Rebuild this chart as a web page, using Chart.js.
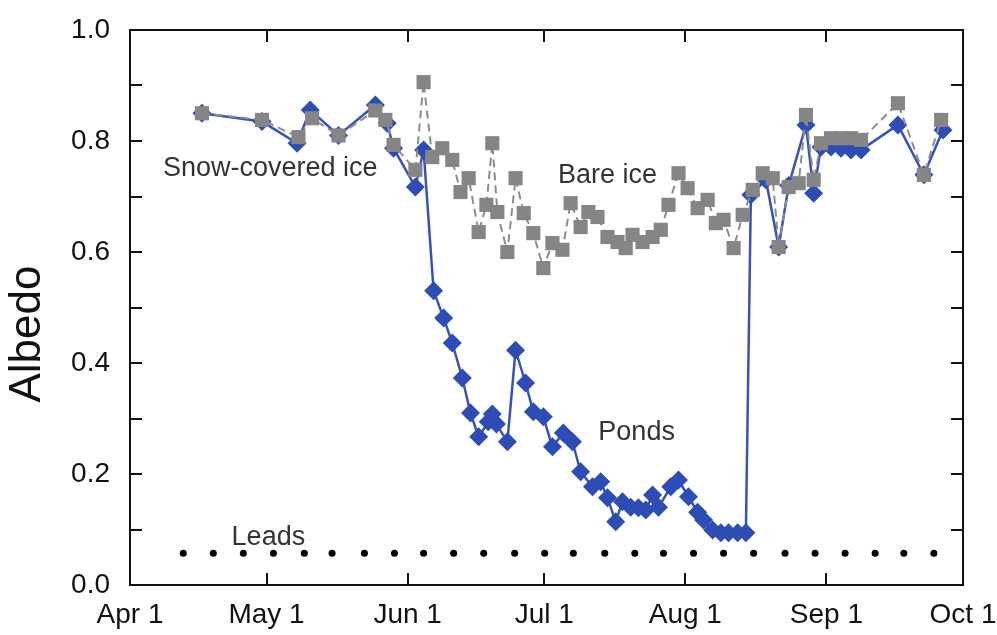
<!DOCTYPE html>
<html><head><meta charset="utf-8">
<script src="https://cdn.jsdelivr.net/npm/chart.js@4/dist/chart.umd.min.js"></script>
<style>html,body{margin:0;padding:0;background:#fff;}#wrap{width:997px;height:635px;}</style>
</head><body><div id="wrap"><canvas id="c" width="997" height="635"></canvas></div>
<script>
// x values are days after April 1
const tickDays = [0, 30, 61, 91, 122, 153, 183];
const tickLabels = ['Apr 1', 'May 1', 'Jun 1', 'Jul 1', 'Aug 1', 'Sep 1', 'Oct 1'];

const bareDays = [15.8, 29.0, 37.0, 40.0, 45.8, 53.9, 56.1, 57.9, 62.7, 64.5, 66.4, 68.6, 70.8, 72.6, 74.4, 76.6, 78.3, 79.6, 80.7, 82.9, 84.7, 86.5, 88.6, 90.8, 92.8, 95.0, 96.8, 99.0, 100.7, 102.7, 104.9, 107.1, 108.9, 110.4, 112.6, 114.8, 116.6, 118.3, 120.5, 122.5, 124.7, 126.9, 128.7, 130.4, 132.6, 134.6, 136.8, 139.0, 141.2, 142.5, 144.7, 146.9, 148.5, 150.2, 151.8, 154.0, 156.2, 158.4, 160.6, 168.7, 174.4, 178.2];
const bareAlbedo = [0.850, 0.838, 0.807, 0.841, 0.810, 0.855, 0.838, 0.793, 0.748, 0.906, 0.771, 0.787, 0.766, 0.708, 0.733, 0.636, 0.685, 0.796, 0.672, 0.600, 0.733, 0.670, 0.634, 0.571, 0.616, 0.604, 0.688, 0.645, 0.672, 0.663, 0.627, 0.618, 0.607, 0.631, 0.618, 0.627, 0.640, 0.685, 0.742, 0.715, 0.679, 0.694, 0.652, 0.658, 0.607, 0.667, 0.712, 0.742, 0.733, 0.609, 0.717, 0.724, 0.847, 0.730, 0.796, 0.805, 0.805, 0.805, 0.802, 0.868, 0.739, 0.838];

const pondDays = [15.8, 29.0, 36.7, 39.6, 45.8, 53.9, 56.5, 57.9, 62.7, 64.5, 66.7, 68.9, 70.8, 73.0, 74.8, 76.6, 78.7, 79.6, 80.5, 82.9, 84.7, 86.9, 88.6, 90.8, 92.8, 95.2, 97.2, 99.0, 101.6, 103.4, 104.9, 106.7, 108.2, 110.0, 111.7, 113.3, 114.8, 116.1, 118.8, 120.5, 122.7, 124.7, 126.0, 128.0, 129.8, 131.5, 133.5, 135.3, 136.4, 139.7, 142.5, 144.7, 148.5, 150.2, 151.8, 154.0, 156.2, 158.4, 160.6, 168.7, 174.4, 178.6];
const pondAlbedo = [0.850, 0.835, 0.796, 0.856, 0.810, 0.865, 0.832, 0.787, 0.717, 0.784, 0.530, 0.481, 0.436, 0.373, 0.310, 0.267, 0.294, 0.308, 0.290, 0.258, 0.423, 0.364, 0.312, 0.303, 0.249, 0.274, 0.258, 0.204, 0.177, 0.186, 0.157, 0.114, 0.150, 0.140, 0.139, 0.135, 0.162, 0.140, 0.177, 0.189, 0.159, 0.131, 0.117, 0.099, 0.094, 0.094, 0.094, 0.094, 0.703, 0.730, 0.609, 0.720, 0.829, 0.706, 0.789, 0.789, 0.787, 0.784, 0.784, 0.829, 0.739, 0.820];

const leadDays = [11.7, 18.3, 24.9, 31.5, 38.3, 44.4, 51.5, 58.1, 64.5, 71.1, 77.7, 84.5, 91.1, 97.4, 104.3, 110.9, 117.2, 123.8, 130.4, 137.0, 143.9, 150.5, 157.1, 163.7, 170.0, 176.6];
const leadAlbedo = [0.057, 0.057, 0.057, 0.057, 0.057, 0.057, 0.057, 0.057, 0.057, 0.057, 0.057, 0.057, 0.057, 0.057, 0.057, 0.057, 0.057, 0.057, 0.057, 0.057, 0.057, 0.057, 0.057, 0.057, 0.057, 0.057];

const labelTexts = ['Snow-covered ice', 'Bare ice', 'Ponds', 'Leads'];
const axisTitle = 'Albedo';

// placement of the text annotations (data coordinates)
const notePlacement = [[30.8, 0.751], [104.9, 0.737], [111.3, 0.274], [30.4, 0.086]];

const FONT = '"Liberation Sans", Arial, sans-serif';
const toXY = (xs, ys) => xs.map((x, i) => ({x: x, y: ys[i]}));

const framePlugin = {
  id: 'frame',
  beforeDatasetsDraw(chart) {
    const {ctx, chartArea: a, scales: {x, y}} = chart;
    ctx.save();
    ctx.strokeStyle = '#111';
    ctx.lineWidth = 2;
    ctx.strokeRect(a.left, a.top, a.right - a.left, a.bottom - a.top);
    const L = 12;
    ctx.beginPath();
    tickDays.forEach(d => {
      if (d <= 0 || d >= 183) return;
      const px = Math.round(x.getPixelForValue(d));
      ctx.moveTo(px, a.bottom); ctx.lineTo(px, a.bottom - L);
      ctx.moveTo(px, a.top); ctx.lineTo(px, a.top + L);
    });
    for (let k = 1; k < 10; k++) {
      const py = Math.round(y.getPixelForValue(k / 10));
      ctx.moveTo(a.left, py); ctx.lineTo(a.left + L, py);
      ctx.moveTo(a.right, py); ctx.lineTo(a.right - L, py);
    }
    ctx.stroke();
    ctx.restore();
  },
  afterDatasetsDraw(chart) {
    const {ctx, chartArea: a, scales: {x, y}} = chart;
    ctx.save();
    ctx.fillStyle = '#333';
    ctx.font = '27px ' + FONT;
    ctx.textAlign = 'center';
    ctx.textBaseline = 'middle';
    labelTexts.forEach((t, i) => {
      ctx.fillText(t, x.getPixelForValue(notePlacement[i][0]), y.getPixelForValue(notePlacement[i][1]));
    });
    ctx.translate(28, 334);
    ctx.rotate(-Math.PI / 2);
    ctx.fillStyle = '#111';
    ctx.font = '44px ' + FONT;
    ctx.fillText(axisTitle, 0, 0);
    ctx.restore();
  }
};

new Chart(document.getElementById('c'), {
  type: 'scatter',
  data: {
    datasets: [
      {
        label: 'Bare ice',
        data: toXY(bareDays, bareAlbedo),
        showLine: true,
        borderColor: '#8c8c8c',
        borderWidth: 2,
        borderDash: [8, 5],
        pointStyle: 'rect',
        pointRadius: 10,
        pointBackgroundColor: '#858585',
        pointBorderColor: '#858585',
        pointBorderWidth: 0,
        order: 0
      },
      {
        label: 'Ponds',
        data: toXY(pondDays, pondAlbedo),
        showLine: true,
        borderColor: '#3752b8',
        borderWidth: 2.5,
        pointStyle: 'rectRot',
        pointRadius: 9.5,
        pointBackgroundColor: '#2e4db4',
        pointBorderColor: '#2e4db4',
        pointBorderWidth: 0,
        order: 1
      },
      {
        label: 'Leads',
        data: toXY(leadDays, leadAlbedo),
        showLine: false,
        pointStyle: 'circle',
        pointRadius: 3.5,
        pointBackgroundColor: '#000',
        pointBorderWidth: 0,
        order: 2
      }
    ]
  },
  options: {
    responsive: false,
    animation: false,
    devicePixelRatio: 1,
    layout: {padding: {top: 30, right: 34, left: 0, bottom: 0}},
    plugins: {legend: {display: false}, tooltip: {enabled: false}},
    scales: {
      x: {
        type: 'linear', min: 0, max: 183,
        grid: {display: false}, border: {display: false},
        afterBuildTicks: s => { s.ticks = tickDays.map(v => ({value: v})); },
        afterFit: s => { s.height = 50; s.paddingLeft = 0; s.paddingRight = 0; },
        ticks: {
          autoSkip: false, maxRotation: 0, padding: 5, color: '#111',
          font: {family: FONT, size: 28},
          callback: v => tickLabels[tickDays.indexOf(v)]
        }
      },
      y: {
        min: 0, max: 1,
        grid: {display: false}, border: {display: false},
        afterFit: s => { s.width = 130; s.paddingTop = 0; s.paddingBottom = 0; },
        ticks: {
          stepSize: 0.2, padding: 12, color: '#111',
          font: {family: FONT, size: 28},
          callback: v => Number(v).toFixed(1)
        }
      }
    }
  },
  plugins: [framePlugin]
});
</script></body></html>
